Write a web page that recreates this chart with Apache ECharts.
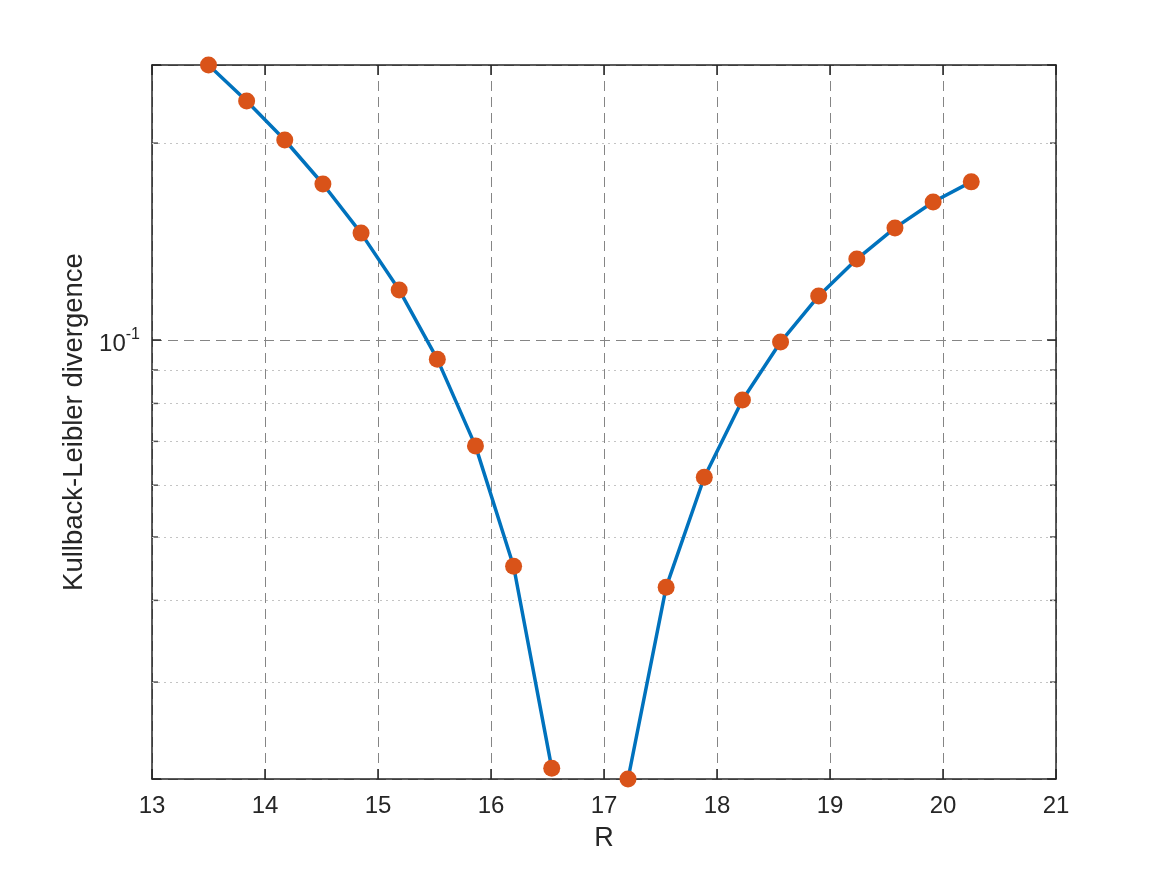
<!DOCTYPE html>
<html>
<head>
<meta charset="utf-8">
<script src="https://cdn.jsdelivr.net/npm/echarts@6/dist/echarts.min.js"></script>
<style>
html,body{margin:0;padding:0;background:#fff;}
#c{width:1167px;height:875px;}
</style>
</head>
<body>
<div id="c"></div>
<script>
// ---- data ----
var rValues = [13.5, 13.8375, 14.175, 14.5125, 14.85, 15.1875, 15.525, 15.8625, 16.2, 16.5375,
               16.875, 17.2125, 17.55, 17.8875, 18.225, 18.5625, 18.9, 19.2375, 19.575, 19.9125, 20.25];
var klValues = [0.2633, 0.2319, 0.2022, 0.1732, 0.1457, 0.1193, 0.0935, 0.0689, 0.0451, 0.02216,
                null, 0.02133, 0.0419, 0.0617, 0.0810, 0.0993, 0.1168, 0.1330, 0.1484, 0.1626, 0.1745];
var xTicks = [13, 14, 15, 16, 17, 18, 19, 20, 21];
var yMin = 0.02133, yMax = 0.2633;
var yMinorGrid = [0.03, 0.04, 0.05, 0.06, 0.07, 0.08, 0.09, 0.2];
var xTitle = 'R';
var yTitle = 'Kullback-Leibler divergence';

// ---- chart ----
var FONT = '"Liberation Sans", Arial, Helvetica, sans-serif';
var INK = '#262626';
var chart = echarts.init(document.getElementById('c'), null, {renderer: 'canvas'});

var lineData = rValues.map(function (x, i) { return [x, klValues[i]]; });
var minorTickData = [];
yMinorGrid.forEach(function (v) { minorTickData.push([xTicks[0], v]); });
var minorTickDataR = [];
yMinorGrid.forEach(function (v) { minorTickDataR.push([xTicks[xTicks.length - 1], v]); });

function xAxisBase(pos) {
  return {
    type: 'value', position: pos, gridIndex: 0,
    min: xTicks[0], max: xTicks[xTicks.length - 1], interval: 1,
    axisLine: {show: true, onZero: false, lineStyle: {color: INK, width: 1.5}},
    axisTick: {show: true, inside: true, length: 10, lineStyle: {color: INK, width: 1.5}},
    splitLine: {show: false},
    axisLabel: {show: false}
  };
}
function yAxisBase(pos) {
  return {
    type: 'log', logBase: 10, position: pos, gridIndex: 0,
    min: yMin, max: yMax,
    axisLine: {show: true, onZero: false, lineStyle: {color: INK, width: 1.5}},
    axisTick: {show: true, inside: true, length: 9, lineStyle: {color: INK, width: 1.5}},
    splitLine: {show: false},
    axisLabel: {show: false}
  };
}

var xBottom = xAxisBase('bottom');
xBottom.axisLabel = {show: true, margin: 15, color: INK, fontSize: 24, fontFamily: FONT};
xBottom.splitLine = {show: true, lineStyle: {color: '#858585', type: [10, 6], width: 1}};
xBottom.name = xTitle;
xBottom.nameLocation = 'middle';
xBottom.nameGap = 46;
xBottom.nameTextStyle = {color: INK, fontSize: 27, fontFamily: FONT};
var xTop = xAxisBase('top');

var yLeft = yAxisBase('left');
yLeft.axisLabel = {
  show: true, margin: 12, color: INK, fontFamily: FONT,
  formatter: function (v) {
    return Math.abs(Math.log10(v) + 1) < 1e-6 ? '{b|10}{s|-1}' : '';
  },
  rich: {
    b: {fontSize: 24, color: INK, fontFamily: FONT, padding: [8, 0, 0, 0]},
    s: {fontSize: 16, color: INK, fontFamily: FONT, padding: [0, 0, 10, 0]}
  }
};
yLeft.splitLine = {show: true, lineStyle: {color: '#858585', type: [10, 6], width: 1}};
yLeft.name = yTitle;
yLeft.nameLocation = 'middle';
yLeft.nameGap = 63;
yLeft.nameTextStyle = {color: INK, fontSize: 27.5, fontFamily: FONT};
var yRight = yAxisBase('right');

var option = {
  backgroundColor: '#ffffff',
  animation: false,
  grid: {left: 152, top: 65, width: 904, height: 714, containLabel: false},
  xAxis: [xBottom, xTop],
  yAxis: [yLeft, yRight],
  series: [
    {
      type: 'line', xAxisIndex: 0, yAxisIndex: 0, data: [], z: 1, silent: true,
      markLine: {
        silent: true, symbol: 'none', label: {show: false},
        lineStyle: {color: '#c4c4c4', type: [2, 4], width: 1},
        data: yMinorGrid.map(function (v) { return {yAxis: v}; })
      }
    },
    {
      type: 'scatter', xAxisIndex: 0, yAxisIndex: 0, data: minorTickData, z: 4, silent: true,
      clip: false, symbol: 'rect', symbolSize: [6, 1.5], symbolOffset: [3, 0],
      itemStyle: {color: INK}
    },
    {
      type: 'scatter', xAxisIndex: 0, yAxisIndex: 0, data: minorTickDataR, z: 4, silent: true,
      clip: false, symbol: 'rect', symbolSize: [6, 1.5], symbolOffset: [-3, 0],
      itemStyle: {color: INK}
    },
    {
      type: 'line', xAxisIndex: 0, yAxisIndex: 0, data: lineData, z: 5,
      connectNulls: false, clip: false,
      symbol: 'circle', symbolSize: 17, showAllSymbol: true,
      lineStyle: {color: '#0072BD', width: 3.5},
      itemStyle: {color: '#D95319', borderWidth: 0}
    }
  ]
};
chart.setOption(option);
</script>
</body>
</html>
